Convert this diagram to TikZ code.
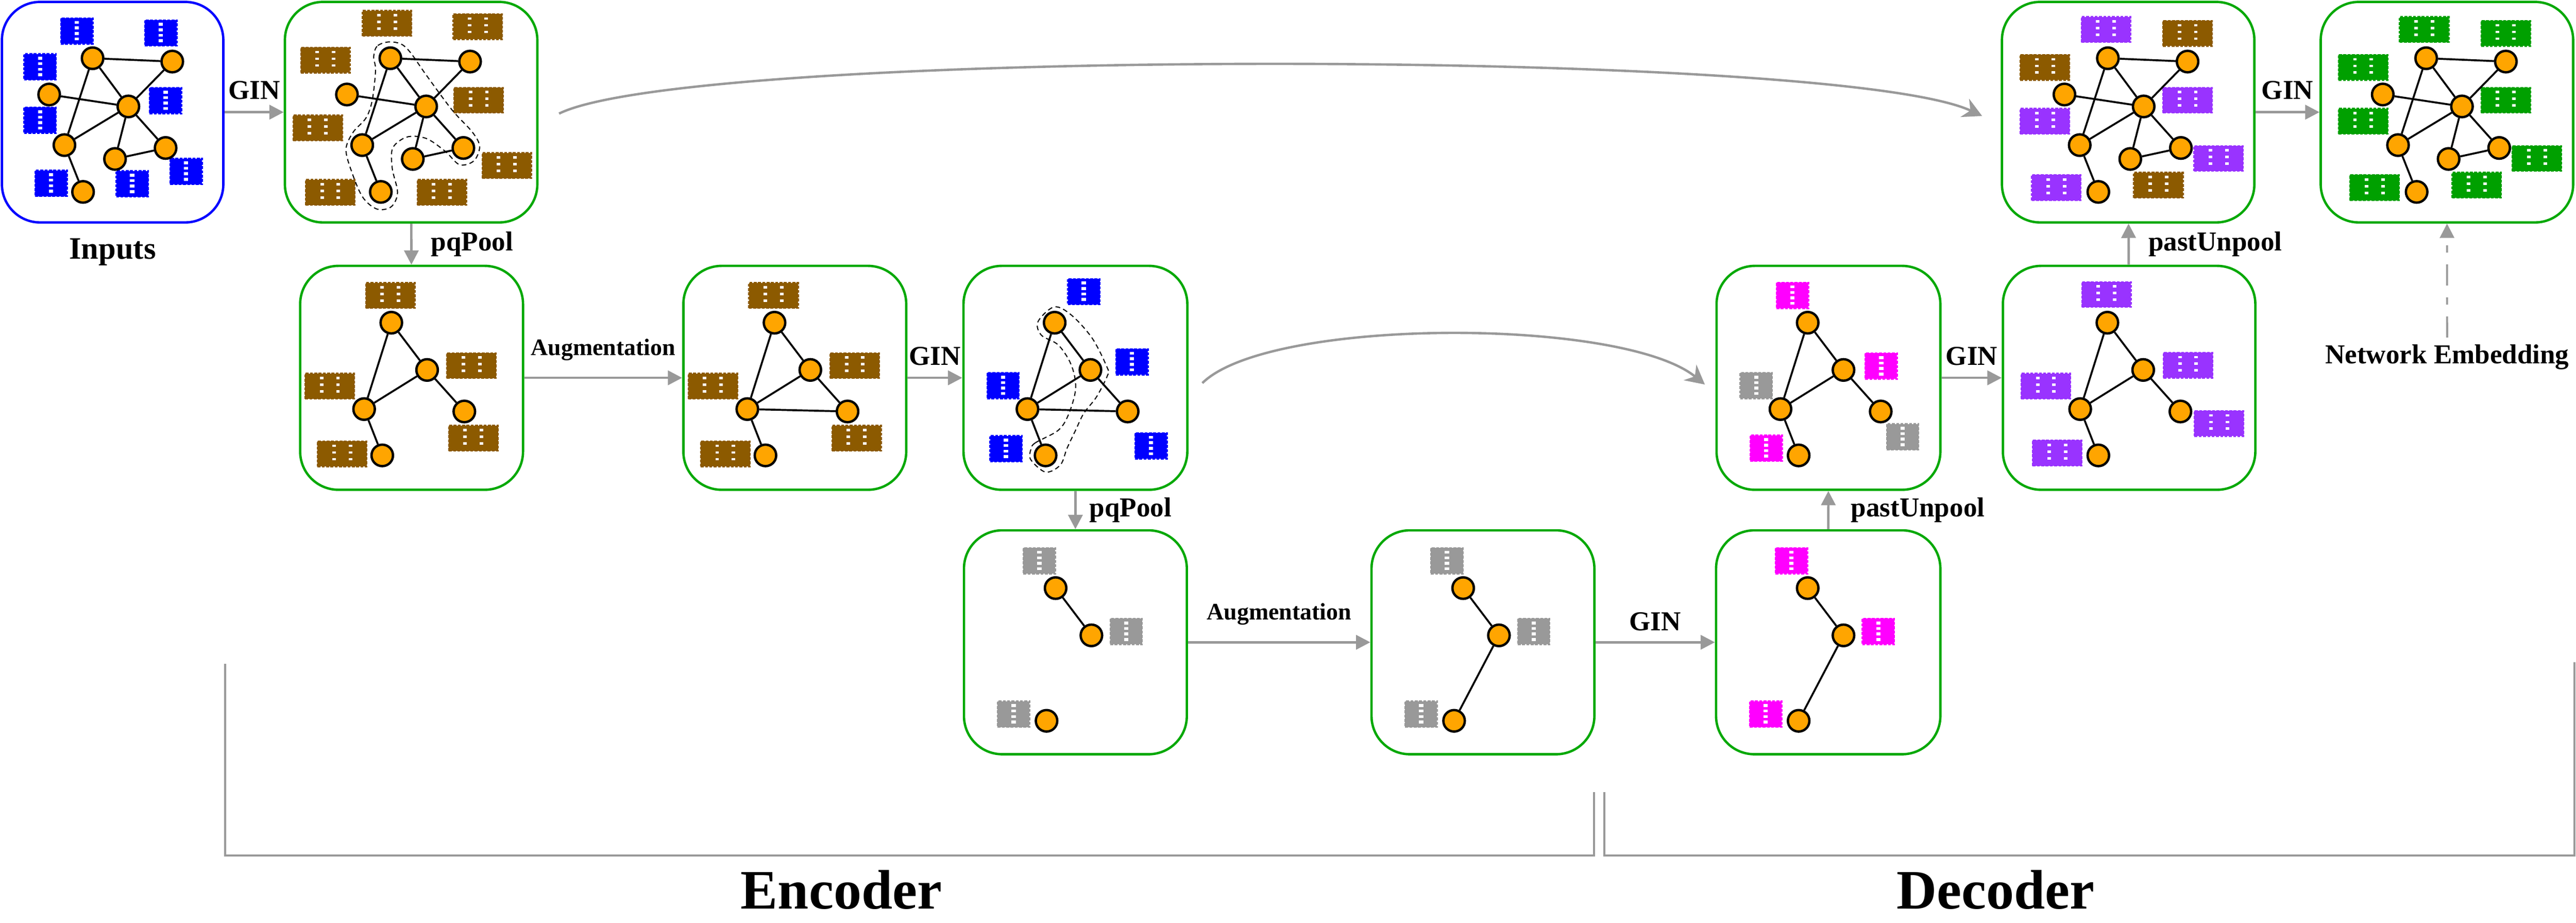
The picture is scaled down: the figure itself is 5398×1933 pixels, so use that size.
\documentclass[tikz,border=0pt]{standalone}
\usepackage{fontspec}
\setmainfont{Liberation Serif}
\usetikzlibrary{arrows.meta, positioning, calc}

\definecolor{boxgreen}{HTML}{00A800}
\definecolor{nodeorange}{HTML}{FFA500}
\definecolor{featblue}{HTML}{0000FF}
\definecolor{featbrown}{HTML}{8C5A00}
\definecolor{featgray}{HTML}{999999}
\definecolor{featpink}{HTML}{FF00FF}
\definecolor{featpurple}{HTML}{9933FF}
\definecolor{featgreen}{HTML}{00A000}
\definecolor{flowgray}{HTML}{999999}

\begin{document}
\begin{tikzpicture}[
  x=0.1mm, y=-0.1mm,
  >={Triangle[length=3mm, width=3mm]},
  gbox/.style={draw=boxgreen, line width=0.5mm, rounded corners=8mm, minimum height=46.9mm, inner sep=0pt},
  vert/.style={circle, draw=black, fill=nodeorange, line width=0.5mm, minimum size=4.5mm, inner sep=0pt},
  link/.style={line width=0.4mm},
  featn/.style={draw=#1, fill=#1, line width=0.3mm, dash pattern=on 0.6mm off 0.3mm, minimum width=6.7mm, minimum height=5.4mm, inner sep=0pt,
    path picture={\draw[white, line width=0.9mm, dash pattern=on 0.6mm off 0.55mm] (path picture bounding box.north) ++(0,-0.6mm) -- ++(0,-4.1mm);}},
  featw/.style={draw=#1, fill=#1, line width=0.3mm, dash pattern=on 0.6mm off 0.3mm, minimum width=10.3mm, minimum height=5.3mm, inner sep=0pt,
    path picture={\foreach \f in {0.333,0.667} \draw[white, line width=0.75mm, dash pattern=on 0.5mm off 0.9mm] ($(path picture bounding box.north west)!\f!(path picture bounding box.north east)$) ++(0,-0.7mm) -- ++(0,-4mm);}},
  pool/.style={line width=0.22mm, dash pattern=on 1mm off 0.7mm},
  flow/.style={->, draw=flowgray, line width=0.5mm},
  skip/.style={-{Stealth[length=4mm, width=4.2mm]}, draw=flowgray, line width=0.5mm},
  embflow/.style={->, draw=flowgray, line width=0.4mm, dash pattern=on 4.4mm off 2.5mm on 1.5mm off 2.5mm},
  brace/.style={draw=flowgray, line width=0.45mm},
  lbl/.style={font=\fontsize{16.3}{18}\selectfont\bfseries, inner sep=0pt},
  auglbl/.style={font=\fontsize{14.1}{16}\selectfont\bfseries, inner sep=0pt},
  inlbl/.style={font=\fontsize{18.6}{20}\selectfont\bfseries, inner sep=0pt},
  biglbl/.style={font=\fontsize{33.2}{36}\selectfont\bfseries, inner sep=0pt}
]
\useasboundingbox (0,0) rectangle (5398,1933);

% Boxes, top row
\node[gbox, draw=blue, minimum width=46.4mm, minimum height=46.2mm] (inp) at (236,235) {};
\node[gbox, minimum width=52.9mm, minimum height=46.2mm] (h1) at (861.5,235) {};
\node[gbox, minimum width=52.9mm, minimum height=46.2mm] (u2) at (4459.5,235) {};
\node[gbox, minimum width=52.9mm, minimum height=46.2mm] (h5) at (5127.5,235) {};
% middle row
\node[gbox, minimum width=46.7mm] (p1) at (862.5,791.5) {};
\node[gbox, minimum width=46.7mm] (a1) at (1665.5,791.5) {};
\node[gbox, minimum width=46.9mm] (h2) at (2253.5,791.5) {};
\node[gbox, minimum width=46.9mm] (u1) at (3831.5,791.5) {};
\node[gbox, minimum width=52.9mm] (h4) at (4461.5,791.5) {};
% bottom row
\node[gbox, minimum width=46.7mm] (p2) at (2253.5,1345.5) {};
\node[gbox, minimum width=46.7mm] (a2) at (3107.5,1345.5) {};
\node[gbox, minimum width=47mm] (h3) at (3831,1345.5) {};

% Features
\foreach \x/\y [count=\i] in {161/65, 337/69, 84/140, 347/211, 84/252, 107/384, 277/385, 390/359}
  \node[featn=featblue] (inpf\i) at (\x,\y) {};
\foreach \x/\y [count=\i] in {811/49, 1001/56, 682/126, 1003/210, 666/268, 1062/347, 692/403, 926/403}
  \node[featw=featbrown] (h1f\i) at (\x,\y) {};
\foreach \x/\y/\c [count=\i] in {4413/62/featpurple, 4584/70/featbrown, 4285/141/featbrown, 4584/210/featpurple, 4285/254/featpurple, 4649/332/featpurple, 4309/393/featpurple, 4523/388/featbrown}
  \node[featw=\c] (u2f\i) at (\x,\y) {};
\foreach \x/\y [count=\i] in {5080/62, 5251/70, 4952/141, 5251/210, 4952/254, 5316/332, 4976/393, 5190/388}
  \node[featw=featgreen] (h5f\i) at (\x,\y) {};
\foreach \g/\dx in {p1/629, a1/1432}
  \foreach \x/\y [count=\i] in {189/619, 359/766, 62/809, 363/918, 88/951}
    \node[featw=featbrown] (\g f\i) at ({\x+\dx},\y) {};
\foreach \x/\y [count=\i] in {2271/611, 2372/758, 2102/808, 2108/940, 2412/934}
  \node[featn=featblue] (h2f\i) at (\x,\y) {};
\foreach \x/\y/\c [count=\i] in {3756/619/featpink, 3942/767/featpink, 3680/808/featgray, 3701/939/featpink, 3987/915/featgray}
  \node[featn=\c] (u1f\i) at (\x,\y) {};
\foreach \x/\y [count=\i] in {4414/617, 4585/765, 4287/809, 4650/887, 4311/949}
  \node[featw=featpurple] (h4f\i) at (\x,\y) {};
\foreach \g/\dx/\c in {p2/2020/featgray, a2/2874/featgray, h3/3596/featpink}
  \foreach \x/\y [count=\i] in {158/1175, 340/1323, 104/1496}
    \node[featn=\c] (\g f\i) at ({\x+\dx},\y) {};

% Pooling groups
\draw[pool] plot[smooth cycle, tension=0.55] coordinates {(813,88) (790,97) (783,120) (787,147) (780,210) (767,247) (740,277) (725,313) (737,360) (760,413) (790,438) (820,433) (833,403) (822,353) (823,310) (853,287) (893,290) (933,317) (963,345) (993,337) (1005,307) (990,277) (947,230) (893,157) (860,110) (840,92)};
\draw[pool] plot[smooth cycle, tension=0.55] coordinates {(2160,942) (2169,928) (2218,901) (2240,866) (2254,813) (2245,765) (2218,723) (2182,702) (2175,674) (2209,643) (2245,660) (2289,709) (2321,772) (2321,786) (2298,831) (2271,866) (2254,901) (2236,939) (2222,974) (2191,989) (2160,963)};

% Graphs, top row
\foreach \g/\dx in {inp/-624, h1/0, u2/3599, h5/4266} {
  \foreach \n/\x/\y in {a/818/122, b/985/129, c/727/198, d/893/223, e/759/304, f/865/333, g/971/310, h/798/402}
    \node[vert] (\g\n) at ({\x+\dx},\y) {};
  \foreach \s/\t in {a/b, a/d, b/d, c/d, a/e, d/e, d/f, d/g, f/g, e/h}
    \draw[link] (\g\s) -- (\g\t);
}
% middle row
\foreach \g/\dx/\extra in {p1/629/0, a1/1432/1, h2/2019/1, u1/3597/0, h4/4225/0} {
  \foreach \n/\x/\y in {p/191/676, q/266/775, r/134/857, s/344/862, t/172/954}
    \node[vert] (\g\n) at ({\x+\dx},\y) {};
  \foreach \s/\t in {p/q, p/r, q/r, q/s, r/t}
    \draw[link] (\g\s) -- (\g\t);
  \ifnum\extra=1 \draw[link] (\g r) -- (\g s); \fi
}
% bottom row
\foreach \g/\dx/\extra in {p2/2020/0, a2/2874/1, h3/3596/1} {
  \foreach \n/\x/\y in {u/192/1232, v/267/1331, w/173/1510}
    \node[vert] (\g\n) at ({\x+\dx},\y) {};
  \draw[link] (\g u) -- (\g v);
  \ifnum\extra=1 \draw[link] (\g v) -- (\g w); \fi
}

% Flows
\draw[flow] (inp) -- (h1) node[lbl, midway, above=2.4mm] {GIN};
\draw[flow] (h1) -- (p1) node[lbl, midway, right=3.9mm] {pqPool};
\draw[flow] (p1) -- (a1) node[auglbl, midway, above=3.4mm] {Augmentation};
\draw[flow] (a1) -- (h2) node[lbl, midway, above=2.4mm] {GIN};
\draw[flow] (h2) -- (p2) node[lbl, midway, right=2.7mm] {pqPool};
\draw[flow] (p2) -- (a2) node[auglbl, midway, above=3.4mm] {Augmentation};
\draw[flow] (a2) -- (h3) node[lbl, midway, above=2.2mm] {GIN};
\draw[flow] (h3) -- (u1) node[lbl, midway, right=4.5mm] {pastUnpool};
\draw[flow] (u1) -- (h4) node[lbl, midway, above=2.4mm] {GIN};
\draw[flow] (h4) -- (u2) node[lbl, midway, right=3.9mm] {pastUnpool};
\draw[flow] (u2) -- (h5) node[lbl, midway, above=2.4mm] {GIN};

% Skip connections
\draw[skip] ([xshift=4.3mm,yshift=-0.3mm]h1.east) .. controls +(279,-138) and +(-305,-143) .. ([xshift=-3.9mm,yshift=-0.8mm]u2.west);
\draw[skip] ([xshift=2.9mm,yshift=-1.1mm]h2.east) .. controls +(140,-138) and +(-173,-141) .. ([xshift=-2.2mm,yshift=-1.4mm]u1.west);

% Labels
\node[inlbl, below=3.1mm of inp] (inplbl) {Inputs};
\node[lbl, inner sep=1.4mm] (netemb) at (5128,748) {Network Embedding};
\draw[embflow] (netemb) -- (h5);

% Encoder / decoder brackets
\coordinate (encTL) at (472,1391);
\coordinate (encBR) at (3340,1792);
\coordinate (encTR) at (3340,1659);
\coordinate (decTL) at (3362,1659);
\coordinate (decBR) at (5395,1792);
\coordinate (decTR) at (5395,1387);
\draw[brace] (encTL) |- (encBR) -- (encTR);
\draw[brace] (decTL) |- (decBR) -- (decTR);
\node[biglbl] (enc) at (1763,1864) {Encoder};
\node[biglbl] (dec) at (4182,1864) {Decoder};
\end{tikzpicture}
\end{document}
